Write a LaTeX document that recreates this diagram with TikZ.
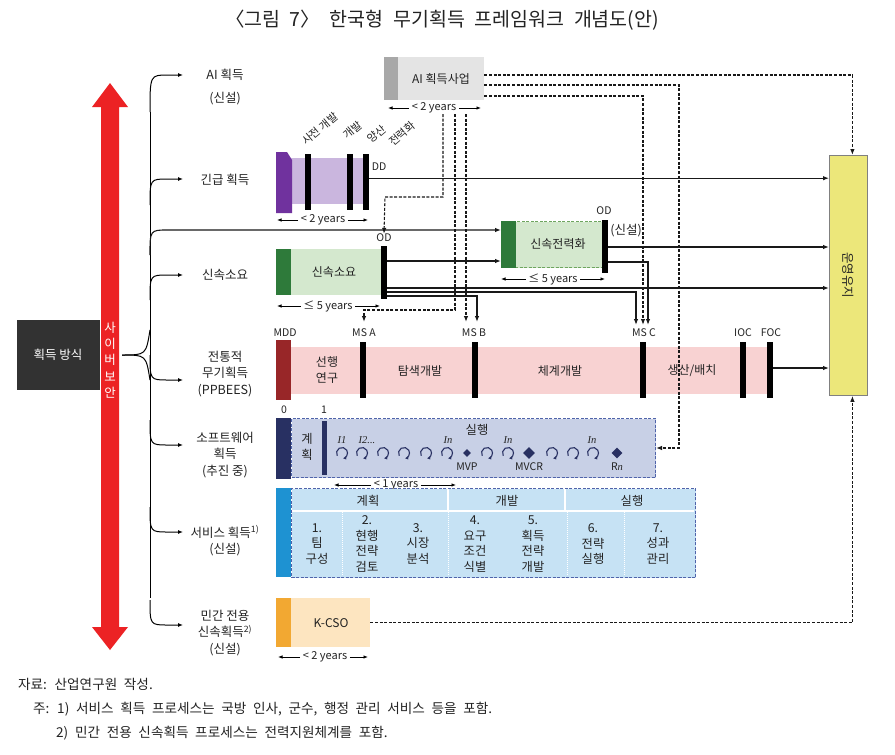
\documentclass[tikz,border=0pt]{standalone}
\usepackage{fontspec}
\setmainfont{Noto Sans CJK KR}
\newfontfamily\serifit{Liberation Serif}
\newfontfamily\widefont{Noto Sans CJK KR}[WordSpace=2.2]
\usetikzlibrary{arrows.meta,calc,shapes.geometric}
\definecolor{cyred}{RGB}{236,34,36}
\definecolor{darkbox}{RGB}{50,50,50}
\definecolor{aistrip}{RGB}{168,168,168}
\definecolor{aibody}{RGB}{228,228,228}
\definecolor{purpS}{RGB}{112,50,158}
\definecolor{purpB}{RGB}{202,182,222}
\definecolor{greenS}{RGB}{46,122,58}
\definecolor{greenB}{RGB}{212,232,206}
\definecolor{greenD}{RGB}{110,165,95}
\definecolor{mddred}{RGB}{152,38,40}
\definecolor{pinkB}{RGB}{248,210,210}
\definecolor{navyS}{RGB}{40,48,98}
\definecolor{swB}{RGB}{200,208,230}
\definecolor{swD}{RGB}{80,100,170}
\definecolor{blueS}{RGB}{30,146,210}
\definecolor{svB}{RGB}{198,226,244}
\definecolor{orS}{RGB}{242,168,50}
\definecolor{orB}{RGB}{253,229,192}
\definecolor{ylw}{RGB}{236,231,122}
\definecolor{txt}{RGB}{35,35,35}
\tikzset{
  lab/.style={font=\fontsize{12.5}{16.5}\selectfont, align=center, inner sep=0pt, text=txt},
  inlab/.style={font=\fontsize{12}{15.5}\selectfont, align=center, inner sep=0pt, text=txt},
  svlab/.style={font=\fontsize{12.3}{15.6}\selectfont, align=center, inner sep=0pt, text=txt},
  rotlab/.style={font=\fontsize{11}{13}\selectfont, inner sep=0pt, text=txt, rotate=40},
  sm/.style={font=\fontsize{10.5}{11}\selectfont, inner sep=0pt, text=txt},
  yrlab/.style={font=\fontsize{11}{12}\selectfont, inner sep=2.5pt, text=txt},
  fnote/.style={font=\widefont\fontsize{13.6}{15}\selectfont, inner sep=0pt, text=txt, anchor=west},
  pbox/.style={draw=none, inner sep=0pt, anchor=north west},
  blk/.style={fill=black, inner sep=0pt, minimum width=6pt, anchor=north west},
  arr/.style={draw=black!90, line width=1.1pt, -{Latex[length=6pt,width=4.5pt]}},
  darr/.style={arr, dash pattern=on 3pt off 1.6pt},
  yr/.style={line width=0.8pt, -{Latex[length=4.5pt,width=3.5pt]}},
  br/.style={line width=1pt, -{Latex[length=5pt,width=4pt]}},
  dbord/.style={dash pattern=on 3pt off 1.5pt, line width=1pt},
}
\newcommand{\yrsline}[6]{%
  \node[yrlab] (#1) at (#2,#3) {#6};
  \coordinate (#1L) at (#4,#3);
  \coordinate (#1R) at (#5,#3);
  \draw[yr] (#1.west) -- (#1L);
  \draw[yr] (#1.east) -- (#1R);}
\newcommand{\swcyc}[2]{%
  \draw[navyS, line width=1.1pt, -{Latex[length=3.2pt,width=3.6pt]}] ($(#1,#2)+(150:5.5)$) arc[start angle=150, end angle=440, radius=5.5];}
\begin{document}
\begin{tikzpicture}[x=1pt,y=-1pt]
\useasboundingbox (0,0) rectangle (895,755);
\fill[white] (0,0) rectangle (895,755);

% title
\node[font=\widefont\fontsize{19.5}{22}\selectfont, text=txt] (title) at (442,20) {〈그림 7〉 한국형 무기획득 프레임워크 개념도(안)};

% left box and red arrow
\node[pbox, fill=darkbox, minimum width=83pt, minimum height=70pt] (method) at (17,320) {};
\node[lab, text=white] (methodt) at (58,355) {획득 방식};
\fill[cyred] (110,83) -- (128,107) -- (119,107) -- (119,627) -- (128,627) -- (110,650) -- (92,627) -- (101,627) -- (101,107) -- (92,107) -- cycle;
\node[lab, text=white, font=\fontsize{12.5}{16.2}\selectfont] (cyber) at (110,360) {사\\이\\버\\보\\안};

% tree
\coordinate (root) at (122,355);
\draw[line width=1pt] (root) .. controls (146,355) .. (150,330);
\draw[line width=1pt] (root) .. controls (146,355) .. (150,380);
\draw[line width=1pt] (150,112) -- (150,598);
\coordinate (eAI) at (183,75);
\coordinate (eUrg) at (183,179);
\coordinate (eRap) at (183,275);
\coordinate (eTrad) at (183,380);
\coordinate (eSW) at (183,445);
\coordinate (eSv) at (183,532);
\coordinate (eCiv) at (183,625);
\draw[br] (150,112) .. controls (150,75) .. (168,75) -- (eAI);
\draw[br] (150,205) .. controls (150,179) .. (168,179) -- (eUrg);
\draw[br] (150,300) .. controls (150,275) .. (168,275) -- (eRap);
\draw[br] (150,355) .. controls (150,380) .. (168,380) -- (eTrad);
\draw[br] (150,420) .. controls (150,445) .. (168,445) -- (eSW);
\draw[br] (150,507) .. controls (150,532) .. (168,532) -- (eSv);
\draw[br] (150,600) .. controls (150,625) .. (168,625) -- (eCiv);

% side labels
\node[lab] (lAI) at (225,75) {AI 획득};
\node[lab] (lAI2) at (225,99) {(신설)};
\node[lab] (lUrg) at (225,180) {긴급 획득};
\node[lab] (lRap) at (225,275) {신속소요};
\node[lab] (lTrad) at (225,374) {전통적\\무기획득\\(PPBEES)};
\node[lab] (lSW) at (225,455) {소프트웨어\\획득\\(추진 중)};
\node[lab] (lSv) at (225,541) {서비스 획득\textsuperscript{1)}\\(신설)};
\node[lab] (lCiv) at (225,633) {민간 전용\\신속획득\textsuperscript{2)}\\(신설)};

% AI box
\node[pbox, fill=aibody, minimum width=100pt, minimum height=43pt] (ai) at (384,57) {};
\fill[aistrip] (ai.north west) rectangle ($(ai.south west)+(14,0)$);
\node[inlab] (ait) at (441,79) {AI 획득사업};
\yrsline{yrA}{434}{108}{388}{481}{< 2 years}

% urgent acquisition
\node[pbox, fill=purpB, minimum width=73pt, minimum height=46pt] (urg) at (291,158) {};
\fill[purpS] (276,152) -- (287,152) -- (292,160) -- (292,213) -- (276,213) -- cycle;
\node[blk, minimum height=56pt] (ub1) at (305,154) {};
\node[blk, minimum height=56pt] (ub2) at (347,154) {};
\node[blk, minimum height=56pt] (dd) at (363,154) {};
\node[sm] (ddl) at (379,167) {DD};
\node[rotlab] (r1) at (320,129) {사전 개발};
\node[rotlab] (r2) at (353,130) {개발};
\node[rotlab] (r3) at (377,134) {양산};
\node[rotlab] (r4) at (402,134) {전력화};
\yrsline{yrU}{323}{220}{277}{368}{< 2 years}

% rapid requirement
\node[pbox, fill=greenB, minimum width=107pt, minimum height=46pt] (rap) at (276,249) {};
\fill[greenS] (rap.north west) rectangle ($(rap.south west)+(15,0)$);
\node[inlab] (rapt) at (334,272) {신속소요};
\node[blk, minimum height=53pt] (od1) at (381,246) {};
\node[sm] (od1l) at (384,238) {OD};
\yrsline{yrR}{328}{306}{277}{380}{≤ 5 years}

% rapid fielding
\node[pbox, fill=greenB, draw=greenD, dbord, minimum width=101pt, minimum height=46pt] (fast) at (501,221) {};
\fill[greenS] (fast.north west) rectangle ($(fast.south west)+(15,0)$);
\node[inlab] (fastt) at (558,244) {신속전력화};
\node[blk, minimum height=53pt] (od2) at (602,220) {};
\node[sm] (od2l) at (604,211) {OD};
\node[lab] (new3) at (626,231) {(신설)};
\yrsline{yrF}{553}{279}{501}{605}{≤ 5 years}

% O&M
\node[pbox, fill=ylw, draw=black!50, line width=0.8pt, minimum width=38pt, minimum height=240pt] (om) at (829,155) {};
\node[lab, rotate=-90] (omt) at (om.center) {운영유지};

% PPBEES
\node[pbox, fill=pinkB, minimum width=476pt, minimum height=47pt] (trad) at (291,347) {};
\node[pbox, fill=mddred, minimum width=15pt, minimum height=60pt] (mdd) at (276,340) {};
\node[blk, minimum height=56pt] (msa) at (360,342) {};
\node[blk, minimum height=56pt] (msb) at (472,342) {};
\node[blk, minimum height=56pt] (msc) at (640,342) {};
\node[blk, minimum height=56pt] (ioc) at (740,342) {};
\node[blk, minimum height=56pt] (foc) at (767,342) {};
\node[sm] (mddl) at (285,333) {MDD};
\node[sm] (msal) at (364,333) {MS A};
\node[sm] (msbl) at (474,333) {MS B};
\node[sm] (mscl) at (644,333) {MS C};
\node[sm] (iocl) at (743,333) {IOC};
\node[sm] (focl) at (771,333) {FOC};
\node[inlab] (t1) at (327,370) {선행\\연구};
\node[inlab] (t2) at (420,371) {탐색개발};
\node[inlab] (t3) at (560,371) {체계개발};
\node[inlab] (t4) at (692,371) {생산/배치};

% software
\node[pbox, fill=swB, draw=swD, dbord, minimum width=364pt, minimum height=59pt] (sw) at (291,418) {};
\node[pbox, fill=navyS, minimum width=15pt, minimum height=61pt] (sws) at (276,418) {};
\node[pbox, fill=navyS, minimum width=5pt, minimum height=54pt] (sw1) at (322,421) {};
\node[sm] (n0) at (284,410) {0};
\node[sm] (n1) at (324,410) {1};
\node[svlab] (swp) at (307,447) {계\\획};
\node[svlab] (swe) at (477,430) {실행};
\node[sm] (i1) at (342,440) {\serifit\itshape I1};
\node[sm] (i2) at (367,440) {\serifit\itshape I2...};
\node[sm] (in1) at (448,440) {\serifit\itshape In};
\node[sm] (in2) at (508,440) {\serifit\itshape In};
\node[sm] (in3) at (592,440) {\serifit\itshape In};
\swcyc{342}{453}\swcyc{362}{453}\swcyc{383}{453}\swcyc{404}{453}\swcyc{426}{453}\swcyc{447}{453}
\swcyc{487}{453}\swcyc{508}{453}\swcyc{552}{453}\swcyc{573}{453}\swcyc{593}{453}
\node[diamond, fill=navyS, inner sep=0pt, minimum size=8pt] (mvp) at (467,453) {};
\node[diamond, fill=navyS, inner sep=0pt, minimum size=12pt] (mvcr) at (529,453) {};
\node[diamond, fill=navyS, inner sep=0pt, minimum size=11pt] (rn) at (617,453) {};
\node[sm] (mvpl) at (467,467) {MVP};
\node[sm] (mvcrl) at (529,467) {MVCR};
\node[sm] (rnl) at (617,467) {R{\serifit\itshape n}};
\yrsline{yrS}{396}{485}{334}{456}{< 1 years}

% service
\node[pbox, fill=svB, draw=swD, dbord, minimum width=404pt, minimum height=89pt] (sv) at (291,488) {};
\node[pbox, fill=blueS, minimum width=15pt, minimum height=89pt] (svs) at (276,488) {};
\draw[white, line width=1.2pt] (292,511) -- (694,511);
\draw[white, line width=1.2pt] (448,489) -- (448,511);
\draw[white, line width=1.2pt] (565,489) -- (565,511);
\draw[white, line width=1pt, dash pattern=on 1pt off 1pt] (342,512) -- (342,576);
\draw[white, line width=1pt, dash pattern=on 1pt off 1pt] (448,512) -- (448,576);
\draw[white, line width=1pt, dash pattern=on 1pt off 1pt] (567,512) -- (567,576);
\draw[white, line width=1pt, dash pattern=on 1pt off 1pt] (624,512) -- (624,576);
\node[svlab] (h1) at (368,501) {계획};
\node[svlab] (h2) at (507,501) {개발};
\node[svlab] (h3) at (632,501) {실행};
\node[svlab] (c1) at (317,544) {1.\\팀\\구성};
\node[svlab] (c2) at (367,544) {2.\\현행\\전략\\검토};
\node[svlab] (c3) at (418,544) {3.\\시장\\분석};
\node[svlab] (c4) at (475,544) {4.\\요구\\조건\\식별};
\node[svlab] (c5) at (533,544) {5.\\획득\\전략\\개발};
\node[svlab] (c6) at (593,544) {6.\\전략\\실행};
\node[svlab] (c7) at (658,544) {7.\\성과\\관리};

% K-CSO
\node[pbox, fill=orB, minimum width=79pt, minimum height=49pt] (kc) at (291,598) {};
\node[pbox, fill=orS, minimum width=15pt, minimum height=49pt] (kcs) at (276,598) {};
\node[inlab] (kct) at (331,623) {K-CSO};
\yrsline{yrK}{325}{657}{278}{368}{< 2 years}

% solid connectors
\draw[arr] (150,255) .. controls (150,230) .. (168,230) -- (fast.west |- 0,230);
\draw[arr] ([yshift=4pt]dd.east) coordinate (ddo) -- (om.west |- ddo);
\draw[arr] (od1.east |- 0,261) -- (fast.west |- 0,261);
\draw[arr] (od1.east |- 0,288) -- (om.west |- 0,288);
\draw[arr] (od1.east |- 0,292) -| (636,325);
\draw[arr] (od1.east |- 0,296) -| (477,322);
\draw[arr] (od2.east |- 0,247) -- (om.west |- 0,247);
\draw[arr] (od2.east |- 0,262) -| (648,325);
\draw[arr] (foc.east |- 0,368) -- (om.west |- 0,368);

% dashed connectors
\draw[darr] (ai.east |- 0,75) -| ([xshift=4pt]om.north);
\draw[darr] (ai.east |- 0,85) -- (679,85) |- (sw.east);
\draw[darr] (ai.east |- 0,96) -| (643,325);
\draw[darr] (443,114) |- (385,197) -- (od1l.north);
\draw[darr] (455,114) |- (364,310) -- (364,322);
\draw[darr] (466,114) -- (466,322);
\draw[darr] (kc.east) -| ([xshift=4pt]om.south);

% footnotes
\node[fnote] (src) at (18,684) {자료: 산업연구원 작성.};
\node[fnote] (fn1) at (33,709) {주: 1) 서비스 획득 프로세스는 국방 인사, 군수, 행정 관리 서비스 등을 포함.};
\node[fnote] (fn2) at (56,733) {2) 민간 전용 신속획득 프로세스는 전력지원체계를 포함.};
\end{tikzpicture}
\end{document}
